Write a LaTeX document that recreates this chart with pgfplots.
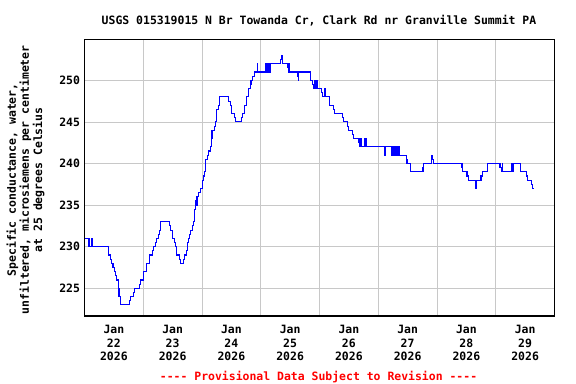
\documentclass[border=0pt]{standalone}
\usepackage{fontspec}
\setmonofont{DejaVu Sans Mono}
\usepackage{pgfplots}
\usepackage{pgfplotstable}
\pgfplotsset{compat=1.18}
\definecolor{gridgray}{RGB}{200,200,200}
\definecolor{usgsblue}{RGB}{0,0,255}
\definecolor{usgsred}{RGB}{255,0,0}
\newcommand{\cf}{\ttfamily\bfseries\fontsize{11.5}{13.2}\selectfont}
\pgfplotstableread{
day value
0.000 231
0.065 230
0.080 231
0.090 230
0.128 231
0.140 230
0.405 229
0.439 228.5
0.462 228
0.485 227.5
0.507 227
0.524 226.5
0.541 226
0.575 225
0.587 224
0.609 223
0.762 223.5
0.785 224
0.830 224.5
0.853 225
0.933 225.5
0.955 226
1.001 227
1.057 228
1.103 229
1.159 229.5
1.176 230
1.205 230.5
1.227 231
1.256 231.5
1.273 232
1.295 233
1.443 232.5
1.465 232
1.499 231
1.533 230.5
1.556 230
1.567 229
1.613 228.5
1.630 228
1.681 228.5
1.703 229
1.737 229.5
1.749 230.5
1.771 231
1.794 231.5
1.811 232
1.834 232.5
1.851 233
1.868 233.5
1.879 234.5
1.896 235.5
1.907 236
1.913 235
1.920 236
1.941 236.5
1.970 237
2.004 238
2.032 238.5
2.049 239
2.066 240.5
2.089 241
2.117 241.5
2.140 242
2.157 244
2.170 243
2.185 244
2.208 244.5
2.225 245
2.242 245.5
2.253 246.5
2.276 247
2.304 248
2.457 247.5
2.480 247
2.497 246
2.548 245.5
2.565 245
2.667 245.5
2.690 246
2.718 247
2.752 248
2.798 249
2.820 250
2.837 249.5
2.850 250
2.866 250.5
2.888 251
2.940 252
2.950 251
3.087 252
3.095 251
3.109 252
3.117 251
3.132 252
3.140 251
3.160 252
3.342 252.5
3.358 253
3.376 252
3.450 251.5
3.466 251
3.478 252
3.490 251
3.619 250.5
3.636 250
3.646 251
3.846 250
3.880 249.5
3.900 249
3.910 250
3.920 249
3.935 250
3.945 249
3.955 250
3.965 249
4.033 248.5
4.050 248
4.090 249
4.100 248
4.164 247.5
4.175 247
4.232 246.5
4.255 246
4.391 245.5
4.402 245
4.470 244.5
4.487 244
4.561 243.5
4.583 243
4.663 242.5
4.674 242
4.690 243
4.712 242
4.760 243
4.772 242
4.790 243
4.800 242
5.111 241
5.122 242
5.230 241
5.240 242
5.262 241
5.272 242
5.292 241
5.305 242
5.326 241
5.336 242
5.366 241
5.479 240.5
5.490 240
5.553 239
5.762 239.5
5.774 240
5.905 241
5.920 240.5
5.935 240
6.426 239.5
6.440 239
6.511 238.5
6.533 238
6.658 237
6.668 238
6.749 238.5
6.772 239
6.857 240
7.072 239.5
7.095 239
7.110 240
7.120 239
7.276 240
7.285 239
7.300 240
7.418 239
7.531 238.5
7.548 238
7.616 237.5
7.633 237
7.645 237
}\condtable
\begin{document}
\begin{tikzpicture}
\useasboundingbox (0,0) rectangle (576bp,384bp);
\begin{axis}[
  at={(84.5bp,68bp)}, anchor=south west,
  scale only axis, width=470bp, height=276.7bp,
  xmin=0, xmax=8, ymin=221.67, ymax=254.93,
  axis line style={black, line width=1.2bp},
  xtick={0.5,1.5,...,7.5},
  xticklabels={{Jan\\22\\2026},{Jan\\23\\2026},{Jan\\24\\2026},{Jan\\25\\2026},{Jan\\26\\2026},{Jan\\27\\2026},{Jan\\28\\2026},{Jan\\29\\2026}},
  minor xtick={1,2,...,7},
  ytick={225,230,...,250},
  major tick length=0pt, minor tick length=0pt,
  xmajorgrids=false, xminorgrids=true, ymajorgrids=true,
  grid style={gridgray, line width=0.8bp},
  minor grid style={gridgray, line width=0.8bp},
  /pgf/number format/assume math mode=true,
  /pgf/number format/1000 sep={},
  tick label style={font=\cf},
  xticklabel style={align=center, yshift=-6bp},
  yticklabel style={xshift=-1bp},
  title={USGS 015319015 N Br Towanda Cr, Clark Rd nr Granville Summit PA},
  title style={font=\cf, at={(axis description cs:0.499,1.045)}, anchor=center},
  ylabel={Specific conductance, water,\\unfiltered, microsiemens per centimeter\\at 25 degrees Celsius},
  ylabel style={font=\cf, align=center, at={(axis description cs:-0.1255,0.492)}, anchor=center},
  clip mode=individual,
]
\addplot[const plot, usgsblue, line width=1.1bp] table[x=day, y=value] {\condtable};
\node[font=\cf, text=usgsred, anchor=center] at (axis description cs:0.498,-0.2222) {---- Provisional Data Subject to Revision ----};
\end{axis}
\end{tikzpicture}
\end{document}
